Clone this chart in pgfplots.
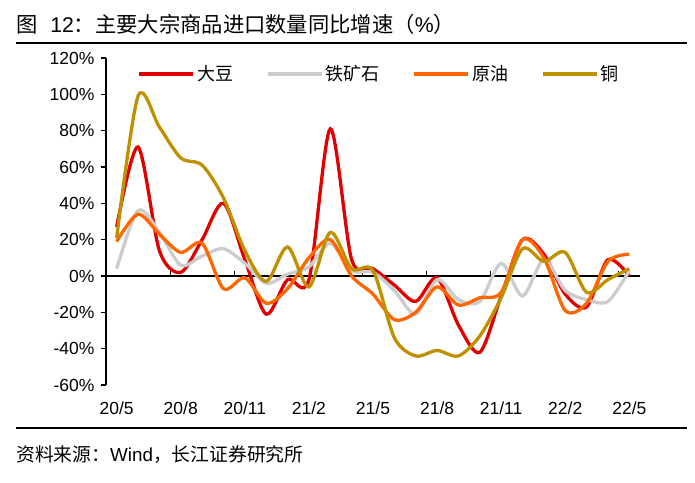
\documentclass[border=0pt]{standalone}
\usepackage{pgfplots}
\pgfplotsset{compat=1.18}
\usepackage{pgfplotstable}
\usepackage{fontspec}
\setmainfont{Liberation Sans}
\newfontfamily\cjk{Noto Sans CJK SC}
\definecolor{cSoy}{RGB}{224,0,0}
\definecolor{cIron}{RGB}{204,204,204}
\definecolor{cOil}{RGB}{255,102,0}
\definecolor{cCu}{RGB}{191,144,0}

\pgfplotstableread{
i soy iron oil copper
0 27 4 19 21
1 71 36 34 99
2 14 24 23 82
3 2 6 13 65
4 20 11 18 61
5 40 15 -7 43
6 9 7 -1 14
7 -21 -4 -15 -3
8 -2 1 -7 16
9 -2 5 10 -6
10 81 18 20 24
11 9 3 0 4
12 4 2 -10 3
13 -5 -8 -24 -34
14 -14 -21 -20 -44
15 -1 -2 -6 -41
16 -27 -13 -16 -44
17 -42 -14 -12 -33
18 -11 7 -9 -12
19 20 -11 20 15
20 12 9 10 8
21 -10 -8 -19 13
22 -17 -13 -15 -9
23 9 -14 8 -2
24 0 3 12 4
}\data

\begin{document}
\begin{tikzpicture}
\path[use as bounding box] (0pt,0pt) rectangle (695pt,482pt);
\node[anchor=west,inner sep=0,font=\fontsize{21.3}{24}\selectfont] at (16pt,458pt) {{\cjk 图}\hspace{0.6em}12{\cjk ：主要大宗商品进口数量同比增速（}\%{\cjk ）}};
\draw[line width=2pt] (16pt,439.3pt) -- (687pt,439.3pt);
\draw[line width=2pt] (16pt,54.3pt) -- (687pt,54.3pt);
\node[anchor=west,inner sep=0,font=\fontsize{18.8}{22}\selectfont] at (16pt,27pt) {{\cjk 资料来源：}Wind{\cjk ，长江证券研究所}};
\begin{axis}[
  at={(106pt,97pt)}, anchor=south west,
  scale only axis, width=534pt, height=327pt,
  xmin=-0.5, xmax=24.5, ymin=-60, ymax=120,
  axis lines=left,
  axis line style={-, line width=1.1pt},
  x axis line style={draw=none},
  xtick={0,3,...,24},
  xticklabels={20/5,20/8,20/11,21/2,21/5,21/8,21/11,22/2,22/5},
  x tick style={draw=none},
  xticklabel style={font=\fontsize{17.5}{20}\selectfont, yshift=-8pt},
  ytick={-60,-40,...,120},
  yticklabel={\pgfmathprintnumber{\tick}\%},
  yticklabel style={font=\fontsize{17.5}{20}\selectfont, xshift=-3pt},
  /pgf/number format/assume math mode=true,
  y tick style={line width=1.1pt, black},
  tick align=outside,
  major tick length=5pt,
  clip=false,
  legend style={draw=none, fill=none, at={(0.511,0.951)}, anchor=center,
    legend columns=4, font=\cjk\fontsize{18}{20}\selectfont,
    /tikz/every even column/.append style={column sep=30pt},
    inner sep=0pt},
  legend image code/.code={\draw[#1, line width=4.5pt] (0pt,0pt) -- (54pt,0pt);},
  every axis plot/.append style={line width=3.3pt, smooth, no markers},
]
\draw[line width=1.1pt] (axis cs:-0.5,0) -- (axis cs:24.5,0);
\pgfplotsinvokeforeach{2.5,5.5,8.5,11.5,14.5,17.5,20.5,23.5}{
  \draw[line width=1.1pt] (axis cs:#1,0) -- (axis cs:#1,3);
}
\addplot[cSoy] table[x=i,y=soy]{\data};
\addlegendentry{大豆}
\addplot[cIron] table[x=i,y=iron]{\data};
\addlegendentry{铁矿石}
\addplot[cOil] table[x=i,y=oil]{\data};
\addlegendentry{原油}
\addplot[cCu] table[x=i,y=copper]{\data};
\addlegendentry{铜}
\end{axis}
\end{tikzpicture}
\end{document}
